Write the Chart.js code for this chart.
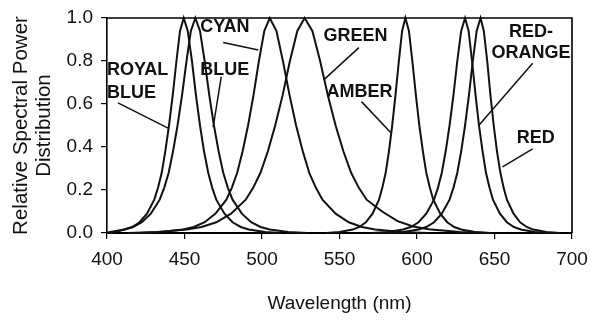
<!DOCTYPE html>
<html><head><meta charset="utf-8">
<script src="https://cdn.jsdelivr.net/npm/chart.js@4.4.0/dist/chart.umd.min.js"></script>
<style>html,body{margin:0;padding:0;background:#fff;}</style>
</head><body>
<canvas id="c" width="590" height="323" style="display:block;width:590px;height:323px"></canvas>
<script>
// ---- data ----
const xTicks = [400, 450, 500, 550, 600, 650, 700];
const yTicks = [0.0, 0.2, 0.4, 0.6, 0.8, 1.0];

const royalBlueNm  = [400, 402, 411.5, 416.3, 421, 425.8, 430.5, 432.9, 435.3, 437.6, 440, 442.4, 444.8, 447.1, 449.5, 452.1, 454.8, 457.4, 460, 462.6, 465.3, 467.9, 470.5, 475.8, 481, 486.3, 491.5, 502, 512.5];
const royalBlueVal = [0, 0.005, 0.016, 0.028, 0.05, 0.09, 0.155, 0.21, 0.28, 0.38, 0.5, 0.64, 0.8, 0.94, 1, 0.94, 0.8, 0.64, 0.5, 0.38, 0.28, 0.21, 0.155, 0.09, 0.05, 0.028, 0.016, 0.005, 0];

const blueNm  = [400, 405.5, 411, 416.8, 422.5, 428.3, 434, 436.9, 439.8, 442.6, 445.5, 448.4, 451.3, 454.1, 457, 460, 463, 466, 469, 472, 475, 478, 481, 487, 493, 499, 505, 517, 529];
const blueVal = [0, 0.005, 0.016, 0.028, 0.05, 0.09, 0.155, 0.21, 0.28, 0.38, 0.5, 0.64, 0.8, 0.94, 1, 0.94, 0.8, 0.64, 0.5, 0.38, 0.28, 0.21, 0.155, 0.09, 0.05, 0.028, 0.016, 0.005, 0];

const cyanNm  = [421, 435, 449, 456, 463, 470, 477, 480.5, 484, 487.5, 491, 494.5, 498, 501.5, 505, 509.3, 513.5, 517.8, 522, 526.3, 530.5, 534.8, 539, 547.5, 556, 564.5, 573, 590, 607];
const cyanVal = [0, 0.005, 0.016, 0.028, 0.05, 0.09, 0.155, 0.21, 0.28, 0.38, 0.5, 0.64, 0.8, 0.94, 1, 0.94, 0.8, 0.64, 0.5, 0.38, 0.28, 0.21, 0.155, 0.09, 0.05, 0.028, 0.016, 0.005, 0];

const greenNm  = [413.5, 432.5, 451.5, 461, 470.5, 480, 489.5, 494.3, 499, 503.8, 508.5, 513.3, 518, 522.8, 527.5, 532.5, 537.5, 542.5, 547.5, 552.5, 557.5, 562.5, 567.5, 577.5, 587.5, 597.5, 607.5, 627.5, 647.5];
const greenVal = [0, 0.005, 0.016, 0.028, 0.05, 0.09, 0.155, 0.21, 0.28, 0.38, 0.5, 0.64, 0.8, 0.94, 1, 0.94, 0.8, 0.64, 0.5, 0.38, 0.28, 0.21, 0.155, 0.1, 0.055, 0.03, 0.017, 0.005, 0];

const amberNm  = [541.5, 550, 558.5, 562.8, 567, 571.3, 575.5, 577.6, 579.8, 581.9, 584, 586.1, 588.3, 590.4, 592.5, 594.8, 597, 599.3, 601.5, 603.8, 606, 608.3, 610.5, 615, 619.5, 624, 628.5, 637.5, 646.5];
const amberVal = [0, 0.005, 0.016, 0.028, 0.05, 0.09, 0.155, 0.21, 0.28, 0.38, 0.5, 0.64, 0.8, 0.94, 1, 0.94, 0.8, 0.64, 0.5, 0.38, 0.28, 0.21, 0.155, 0.09, 0.05, 0.028, 0.016, 0.005, 0];

const redOrangeNm  = [571, 581, 591, 596, 601, 606, 611, 613.5, 616, 618.5, 621, 623.5, 626, 628.5, 631, 633.3, 635.5, 637.8, 640, 642.3, 644.5, 646.8, 649, 653.5, 658, 662.5, 667, 676, 685];
const redOrangeVal = [0, 0.005, 0.016, 0.028, 0.05, 0.09, 0.155, 0.21, 0.28, 0.38, 0.5, 0.64, 0.8, 0.94, 1, 0.94, 0.8, 0.64, 0.5, 0.38, 0.28, 0.21, 0.155, 0.09, 0.05, 0.028, 0.016, 0.005, 0];

const redNm  = [581, 591, 601, 606, 611, 616, 621, 623.5, 626, 628.5, 631, 633.5, 636, 638.5, 641, 643.1, 645.3, 647.4, 649.5, 651.6, 653.8, 655.9, 658, 662.3, 666.5, 670.8, 675, 683.5, 692];
const redVal = [0, 0.005, 0.016, 0.028, 0.05, 0.09, 0.155, 0.21, 0.28, 0.38, 0.5, 0.64, 0.8, 0.94, 1, 0.94, 0.8, 0.64, 0.5, 0.38, 0.28, 0.21, 0.155, 0.09, 0.05, 0.028, 0.016, 0.005, 0];

// ---- labels (text, anchor in data units) and leader lines (data units) ----
const labelTexts = [
  {t: 'ROYAL',  x: 400,   y: 0.758, align: 'left'},
  {t: 'BLUE',   x: 400,   y: 0.649, align: 'left'},
  {t: 'BLUE',   x: 460.1, y: 0.758, align: 'left'},
  {t: 'CYAN',   x: 460.1, y: 0.960, align: 'left'},
  {t: 'GREEN',  x: 539.7, y: 0.914, align: 'left'},
  {t: 'AMBER',  x: 541.6, y: 0.656, align: 'left'},
  {t: 'RED-',   x: 673.5, y: 0.937, align: 'center'},
  {t: 'ORANGE', x: 673.5, y: 0.835, align: 'center'},
  {t: 'RED',    x: 676.6, y: 0.442, align: 'center'}
];
const leaders = [
  [407.1, 0.605, 439.4, 0.488],
  [473.7, 0.726, 468.5, 0.493],
  [475.0, 0.886, 497.6, 0.851],
  [562.5, 0.862, 539.8, 0.712],
  [564.2, 0.611, 583.0, 0.467],
  [674.6, 0.789, 640.1, 0.502],
  [674.6, 0.391, 655.2, 0.308]
];

const seriesNm  = [royalBlueNm, blueNm, cyanNm, greenNm, amberNm, redOrangeNm, redNm];
const seriesVal = [royalBlueVal, blueVal, cyanVal, greenVal, amberVal, redOrangeVal, redVal];
const seriesNames = ['ROYAL BLUE', 'BLUE', 'CYAN', 'GREEN', 'AMBER', 'RED-ORANGE', 'RED'];

const datasets = seriesNames.map((name, i) => ({
  label: name,
  data: seriesNm[i].map((w, j) => ({x: w, y: seriesVal[i][j]})),
  borderColor: '#111',
  borderWidth: 2,
  pointRadius: 0,
  tension: 0,
  fill: false,
  clip: false
}));

const annot = {
  id: 'annot',
  afterDatasetsDraw(chart) {
    const {ctx, scales: {x, y}, chartArea: a} = chart;
    ctx.save();
    ctx.strokeStyle = '#000';
    ctx.lineWidth = 1.6;
    ctx.beginPath();
    ctx.moveTo(a.left, a.top); ctx.lineTo(a.right, a.top); ctx.lineTo(a.right, a.bottom);
    ctx.stroke();
    ctx.lineWidth = 1.5;
    ctx.strokeStyle = '#111';
    leaders.forEach(l => {
      ctx.beginPath();
      ctx.moveTo(x.getPixelForValue(l[0]), y.getPixelForValue(l[1]));
      ctx.lineTo(x.getPixelForValue(l[2]), y.getPixelForValue(l[3]));
      ctx.stroke();
    });
    ctx.fillStyle = '#111';
    ctx.font = 'bold 18px "Liberation Sans", Arial, sans-serif';
    ctx.textBaseline = 'middle';
    labelTexts.forEach(l => {
      ctx.textAlign = l.align;
      ctx.fillText(l.t, x.getPixelForValue(l.x), y.getPixelForValue(l.y));
    });
    ctx.restore();
  }
};

const tickFont = {family: '"Liberation Sans", Arial, sans-serif', size: 19};
const yTitleFont = {family: '"Liberation Sans", Arial, sans-serif', size: 20.5, lineHeight: 1.12};

new Chart(document.getElementById('c'), {
  type: 'line',
  data: {datasets},
  plugins: [annot],
  options: {
    responsive: false,
    animation: false,
    devicePixelRatio: 1,
    layout: {padding: {left: 0, right: 18, top: 18, bottom: 0}},
    plugins: {legend: {display: false}, tooltip: {enabled: false}},
    scales: {
      x: {
        type: 'linear', min: 400, max: 700,
        afterBuildTicks: s => { s.ticks = xTicks.map(v => ({value: v})); },
        afterFit: s => { s.height = 90; s.paddingLeft = 0; s.paddingRight = 0; },
        grid: {drawOnChartArea: false, drawTicks: true, tickLength: 6, color: '#000', lineWidth: 1.2},
        border: {display: true, color: '#000', width: 2},
        ticks: {color: '#111', font: tickFont, padding: 9, maxRotation: 0, autoSkip: false},
        title: {display: true, text: 'Wavelength (nm)', color: '#111', font: tickFont, padding: {top: 0, bottom: 8}}
      },
      y: {
        type: 'linear', min: 0, max: 1,
        afterBuildTicks: s => { s.ticks = yTicks.map(v => ({value: v})); },
        afterFit: s => { s.width = 107; s.paddingTop = 0; s.paddingBottom = 0; },
        grid: {drawOnChartArea: false, drawTicks: true, tickLength: 6, color: '#000', lineWidth: 1.2},
        border: {display: true, color: '#000', width: 1.6},
        ticks: {color: '#111', font: tickFont, padding: 8, callback: v => v.toFixed(1)},
        title: {display: true, text: ['Relative Spectral Power', 'Distribution'], color: '#111', font: yTitleFont, padding: {top: 10, bottom: 0}}
      }
    }
  }
});
</script>
</body></html>
